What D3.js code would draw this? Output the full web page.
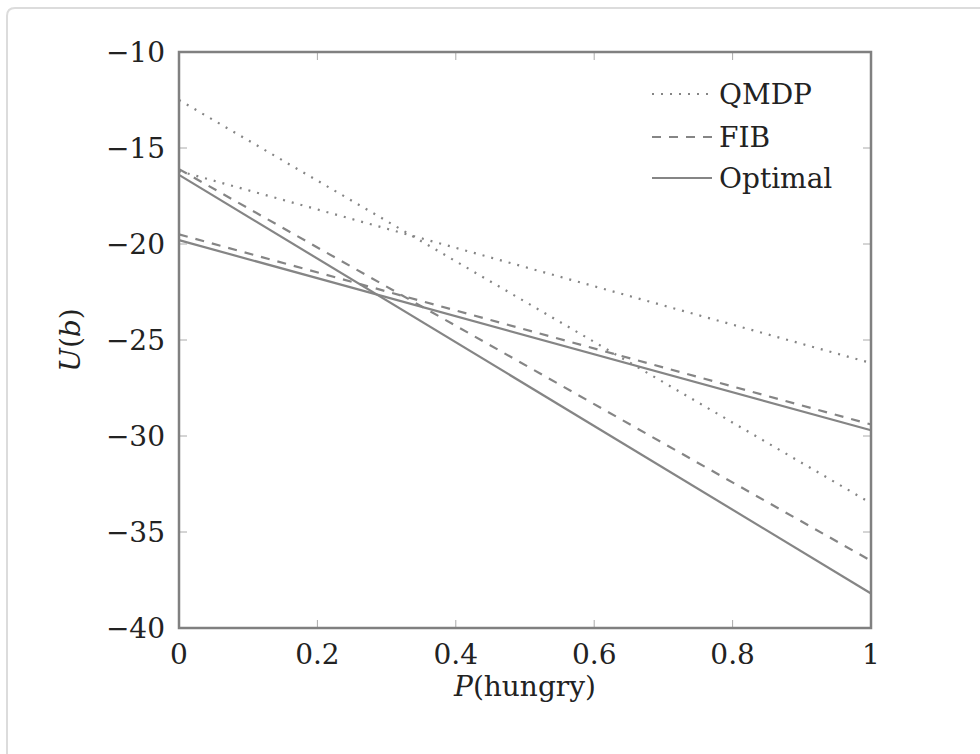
<!DOCTYPE html>
<html>
<head>
<meta charset="utf-8">
<script src="https://cdn.jsdelivr.net/npm/d3@7"></script>
<style>
  html, body { margin: 0; padding: 0; background: #fff; }
  text { font-family: "DejaVu Serif", "Liberation Serif", serif; fill: #222; }
</style>
</head>
<body>
<div id="chart"></div>
<script>
const width = 980,
    height = 754,
    margin = ({ top: 52, right: 109, bottom: 126, left: 179 });

// values at P(hungry) = 0 and 1
const xVals = [0, 1];
const qmdpA = [-12.5, -33.5];
const qmdpB = [-16.2, -26.2];
const fibA = [-16.1, -36.5];
const fibB = [-19.5, -29.4];
const optA = [-16.4, -38.2];
const optB = [-19.8, -29.7];

const xTicks = [0, 0.2, 0.4, 0.6, 0.8, 1];
const yTicks = [-10, -15, -20, -25, -30, -35, -40];
const legendNames = ["QMDP", "FIB", "Optimal"];

const grey = "#858585";
const dashes = { QMDP: "2,7", FIB: "9,8", Optimal: null };

const series = [
  { name: "QMDP", values: qmdpA },
  { name: "QMDP", values: qmdpB },
  { name: "FIB", values: fibA },
  { name: "FIB", values: fibB },
  { name: "Optimal", values: optA },
  { name: "Optimal", values: optB }
];

const svg = d3.select("#chart")
  .append("svg")
  .attr("width", width)
  .attr("height", height);

// card outline
svg.append("path")
  .attr("d", `M7,${height + 5} L7,16 Q7,8 15,8 L${width + 5},8`)
  .attr("fill", "none")
  .attr("stroke", "#dcdcdc")
  .attr("stroke-width", 2);

let x = d3.scaleLinear()
  .domain([0, 1])
  .range([margin.left, width - margin.right]);

let y = d3.scaleLinear()
  .domain([-40, -10])
  .range([height - margin.bottom, margin.top]);

// ticks on all four sides, pointing inward
const tickLen = 8;
const tickG = svg.append("g").attr("stroke", "#aaa").attr("stroke-width", 1);
for (let t of xTicks) {
  tickG.append("line").attr("x1", x(t)).attr("x2", x(t))
    .attr("y1", y(-40)).attr("y2", y(-40) - tickLen);
  tickG.append("line").attr("x1", x(t)).attr("x2", x(t))
    .attr("y1", y(-10)).attr("y2", y(-10) + tickLen);
}
for (let t of yTicks) {
  tickG.append("line").attr("x1", x(0)).attr("x2", x(0) + tickLen)
    .attr("y1", y(t)).attr("y2", y(t));
  tickG.append("line").attr("x1", x(1)).attr("x2", x(1) - tickLen)
    .attr("y1", y(t)).attr("y2", y(t));
}

// tick labels
svg.append("g")
  .selectAll("text")
  .data(xTicks)
  .join("text")
  .attr("x", d => x(d))
  .attr("y", y(-40) + 36)
  .attr("text-anchor", "middle")
  .attr("font-size", 28)
  .text(d => d3.format("")(d));

svg.append("g")
  .selectAll("text")
  .data(yTicks)
  .join("text")
  .attr("x", x(0) - 14)
  .attr("y", d => y(d) + 10)
  .attr("text-anchor", "end")
  .attr("font-size", 28)
  .text(d => "\u2212" + Math.abs(d));

// lines
let line = d3.line()
  .x((d, i) => x(xVals[i]))
  .y(d => y(d));

svg.append("g")
  .selectAll("path")
  .data(series)
  .join("path")
  .attr("d", d => line(d.values))
  .attr("fill", "none")
  .attr("stroke", grey)
  .attr("stroke-width", 2.2)
  .attr("stroke-dasharray", d => dashes[d.name]);

// frame
svg.append("rect")
  .attr("x", x(0))
  .attr("y", y(-10))
  .attr("width", x(1) - x(0))
  .attr("height", y(-40) - y(-10))
  .attr("fill", "none")
  .attr("stroke", "#808080")
  .attr("stroke-width", 2.5);

// legend
const legend = svg.append("g");
const legendY = [94, 137, 178];
legendNames.forEach((name, i) => {
  legend.append("line")
    .attr("x1", 652).attr("x2", 712)
    .attr("y1", legendY[i]).attr("y2", legendY[i])
    .attr("stroke", grey)
    .attr("stroke-width", 2.2)
    .attr("stroke-dasharray", dashes[name]);
  legend.append("text")
    .attr("x", 719)
    .attr("y", legendY[i] + 10)
    .attr("font-size", 28)
    .text(name);
});

// axis titles
const xt = svg.append("text")
  .attr("x", (x(0) + x(1)) / 2)
  .attr("y", 696)
  .attr("text-anchor", "middle")
  .attr("font-size", 28);
xt.append("tspan").attr("font-style", "italic").text("P");
xt.append("tspan").text("(hungry)");

const yt = svg.append("text")
  .attr("transform", `translate(80,${(y(-10) + y(-40)) / 2}) rotate(-90)`)
  .attr("text-anchor", "middle")
  .attr("font-size", 28);
yt.append("tspan").attr("font-style", "italic").text("U");
yt.append("tspan").text("(");
yt.append("tspan").attr("font-style", "italic").text("b");
yt.append("tspan").text(")");
</script>
</body>
</html>
